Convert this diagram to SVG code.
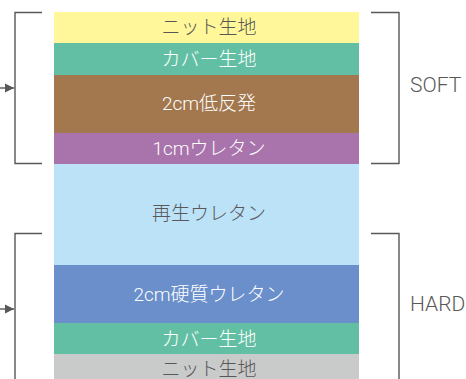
<svg xmlns="http://www.w3.org/2000/svg" width="466" height="379" viewBox="0 0 466 379">
<defs>
<style>
.t{font-family:Roboto,"Noto Sans CJK JP","Noto Sans",sans-serif;font-size:19px;text-anchor:middle;dominant-baseline:central;font-weight:300}
.d{fill:#595757}
.w{fill:#ffffff}
.br{fill:none;stroke:#595757;stroke-width:1.4}
.lab{font-family:Roboto,"Liberation Sans",sans-serif;font-size:21px;font-weight:300;fill:#595757;dominant-baseline:central}
</style>
<marker id="ah" markerWidth="10" markerHeight="10" refX="9" refY="5" orient="auto" markerUnits="userSpaceOnUse">
<path d="M0,0.5 L9,5 L0,9.5 Z" fill="#595757"/>
</marker>
</defs>
<g id="layer-knit-top"><rect x="54" y="12" width="305" height="31" fill="#fff799"/><text class="t d" x="209" y="27">ニット生地</text></g>
<g id="layer-cover-top"><rect x="54" y="43" width="305" height="32" fill="#63bfa3"/><text class="t w" x="209" y="59">カバー生地</text></g>
<g id="layer-2cm-low"><rect x="54" y="75" width="305" height="58" fill="#a3784f"/><text class="t w" x="209" y="103">2cm低反発</text></g>
<g id="layer-1cm"><rect x="54" y="133" width="305" height="31" fill="#a874ab"/><text class="t w" x="209" y="148">1cmウレタン</text></g>
<g id="layer-recycled"><rect x="54" y="164" width="305" height="101" fill="#bbe2f7"/><text class="t d" x="209" y="213">再生ウレタン</text></g>
<g id="layer-2cm-hard"><rect x="54" y="265" width="305" height="58" fill="#6a8fca"/><text class="t w" x="209" y="294">2cm硬質ウレタン</text></g>
<g id="layer-cover-bottom"><rect x="54" y="323" width="305" height="31" fill="#63bfa3"/><text class="t w" x="209" y="339">カバー生地</text></g>
<g id="layer-knit-bottom"><rect x="54" y="354" width="305" height="25" fill="#c9caca"/><text class="t d" x="209" y="369">ニット生地</text></g>
<g id="soft-group"><path class="br" d="M371,12.5 H399 V163.5 H371"/><text class="lab" x="410" y="85">SOFT</text></g>
<g id="hard-group"><path class="br" d="M371,233.5 H399 V379"/><text class="lab" x="410" y="304">HARD</text></g>
<g id="connectors">
<path class="br" d="M42,12.5 H15 V163.5 H42"/>
<path class="br" d="M42,233.5 H15 V379"/>
<line class="br" x1="0" y1="88" x2="14" y2="88" marker-end="url(#ah)"/>
<line class="br" x1="0" y1="309" x2="14" y2="309" marker-end="url(#ah)"/>
</g>
</svg>
